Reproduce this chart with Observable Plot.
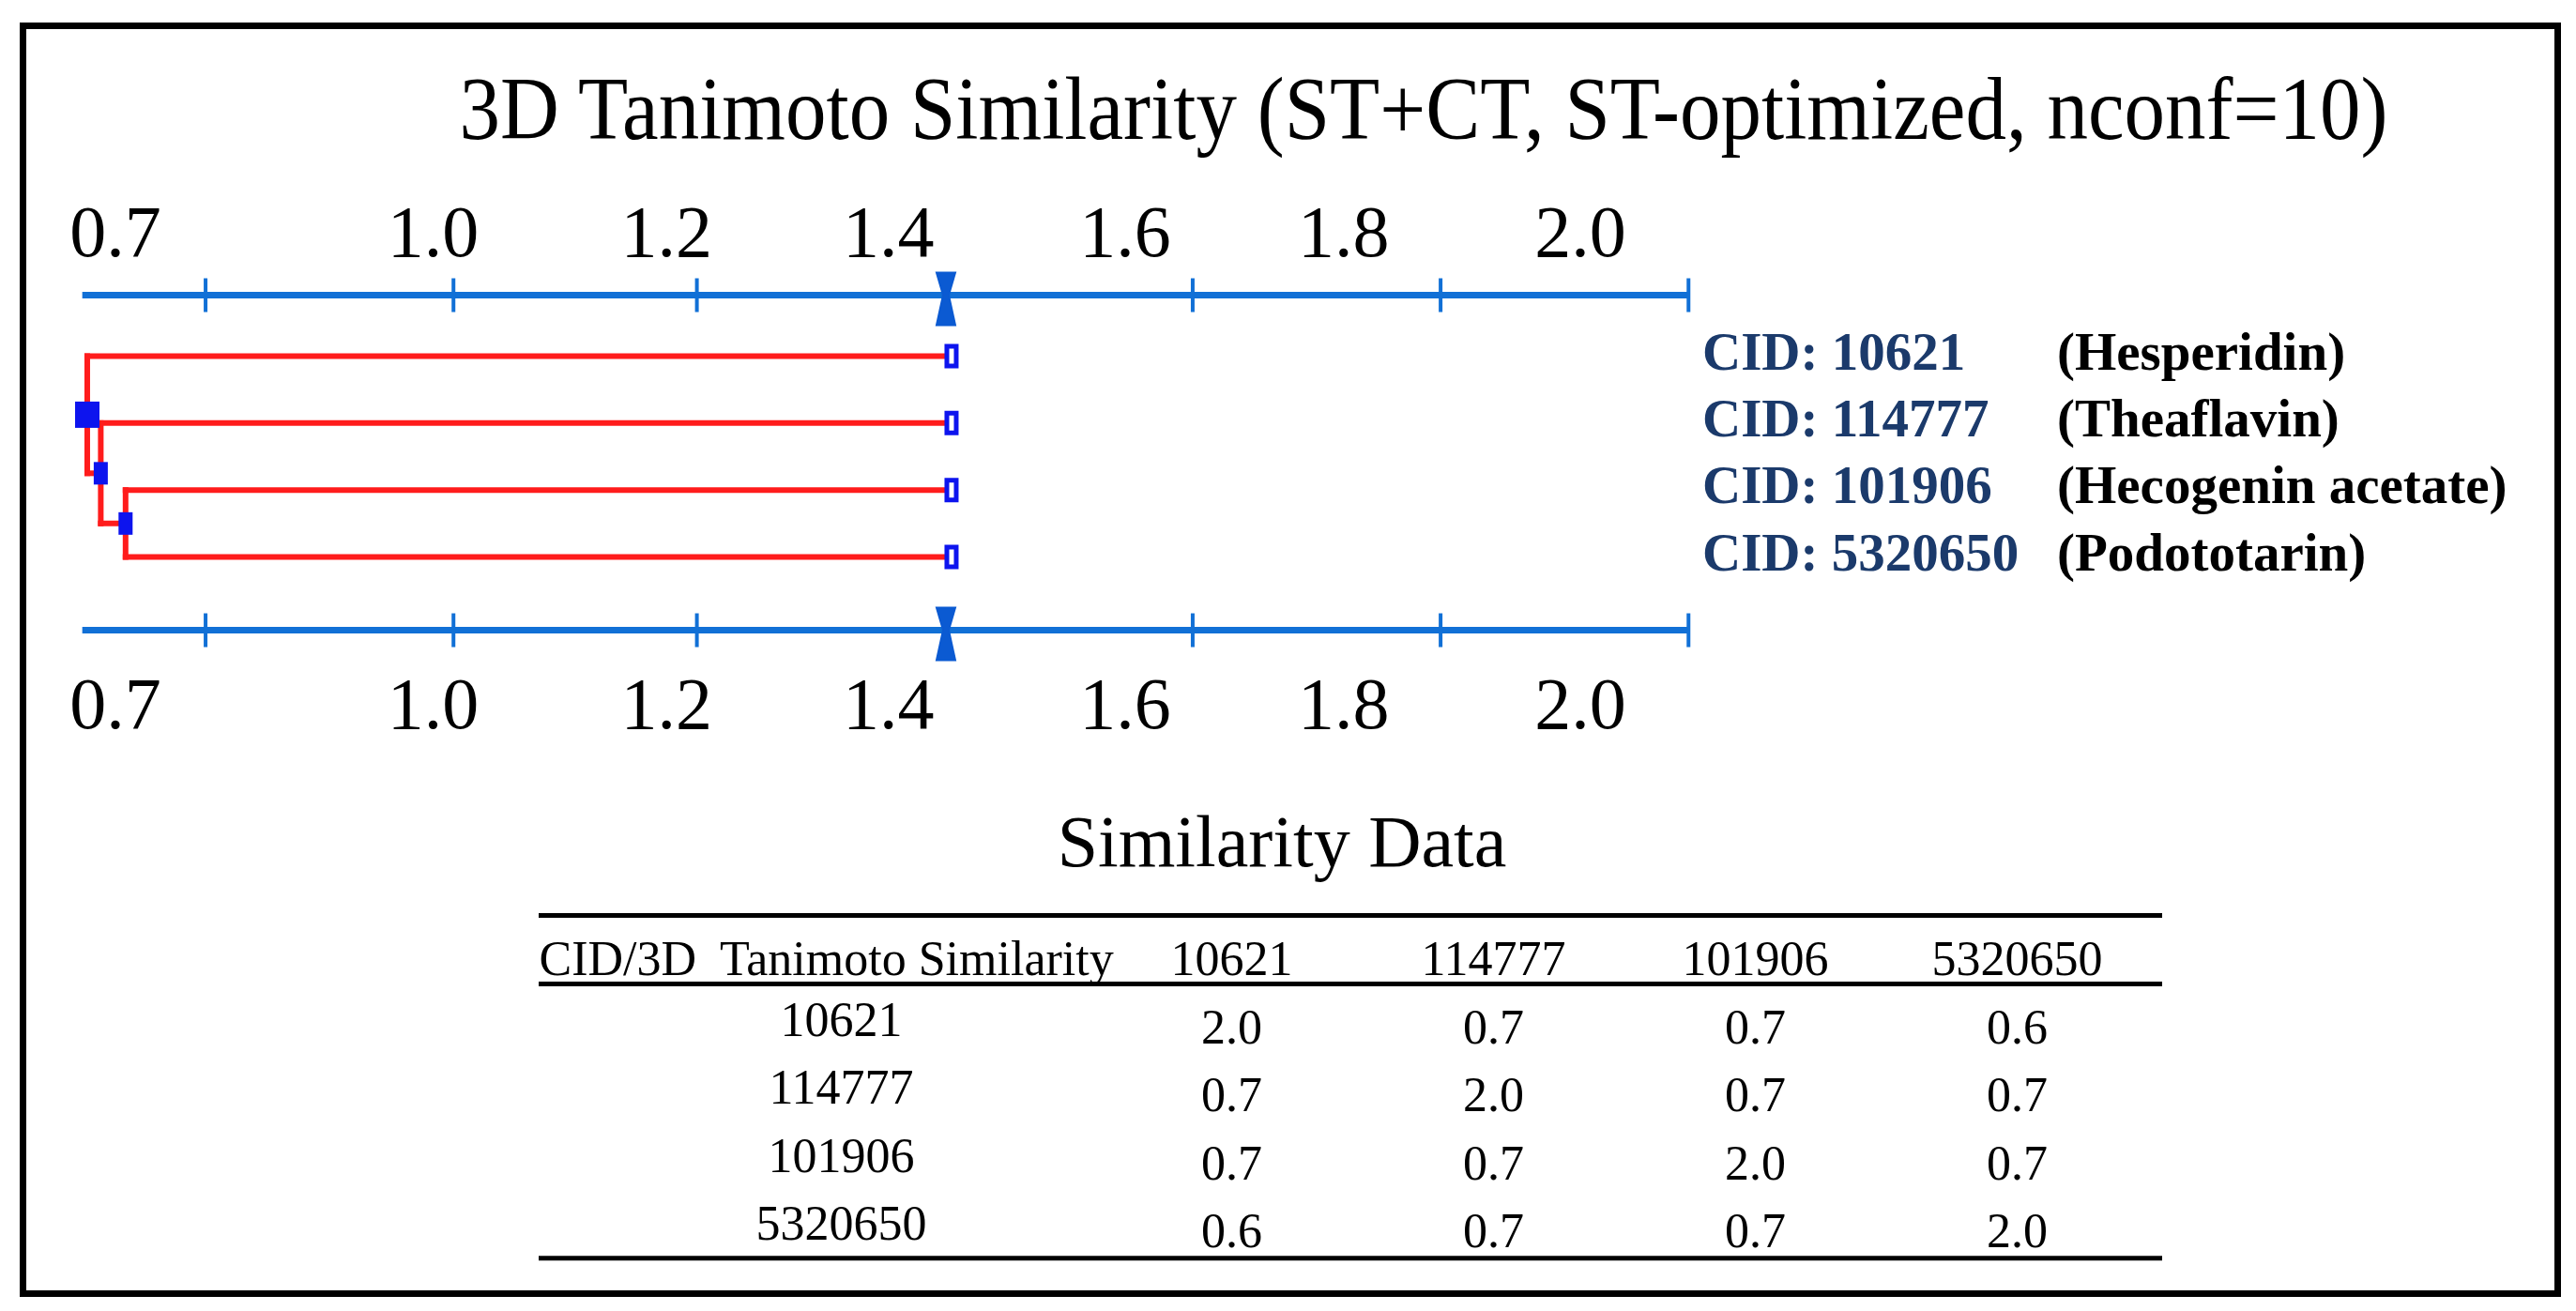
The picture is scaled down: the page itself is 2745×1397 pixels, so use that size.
<!DOCTYPE html>
<html>
<head>
<meta charset="utf-8">
<script src="https://cdn.jsdelivr.net/npm/d3@7"></script>
<script src="https://cdn.jsdelivr.net/npm/@observablehq/plot@0.6"></script>
<style>
  html, body { margin: 0; padding: 0; background: #fff; }
  #wrap { position: relative; width: 2745px; height: 1397px; overflow: hidden;
          font-family: "Liberation Serif", "Times New Roman", serif; background: #fff; }
  #border { position: absolute; left: 21px; top: 24px; width: 2708px; height: 1358px;
            border: 7px solid #000; box-sizing: border-box; }
  .ttl { position: absolute; white-space: pre; line-height: 1; color: #000; }
  #dendro { position: absolute; left: 0; top: 150px; }
  #table { position: absolute; left: 0; top: 900px; }
</style>
</head>
<body>
<div id="wrap">
  <div id="border"></div>
  <div class="ttl" id="mainTitle" style="left:1517px; top:72px; font-size:87px; transform: translateX(-50%) scaleY(1.1);"></div>
  <div class="ttl" id="tableTitle" style="left:1366px; top:858px; font-size:78px; transform: translateX(-50%);"></div>
  <div id="dendro"></div>
  <div id="table"></div>
</div>
<script>
// ---------------- data ----------------
const chartTitle = "3D Tanimoto Similarity (ST+CT, ST-optimized, nconf=10)";
const tableTitle = "Similarity Data";

// leaves of the dendrogram (top to bottom)
const leafIds = ["10621", "114777", "101906", "5320650"];
const leafNames = ["(Hesperidin)", "(Theaflavin)", "(Hecogenin acetate)", "(Podototarin)"];
const leafSimilarity = 1.442;

// merges (in order of joining)
const mergeIds = ["A", "B", "C"];
const mergeLeft = ["101906", "114777", "10621"];
const mergeRight = ["5320650", "A", "B"];
const mergeHeights = [0.709, 0.687, 0.675];

// axis
const axisStart = 0.671;
const axisEnd = 2.096;
const axisTickValues = [0.78, 1.0, 1.216, 1.437, 1.656, 1.876, 2.096];
const axisTickLabels = ["0.7", "1.0", "1.2", "1.4", "1.6", "1.8", "2.0"];
const axisLabelValues = [0.7, 0.982, 1.189, 1.386, 1.596, 1.79, 2.0];
const cutoffValue = 1.437;

// table
const tableHeader = "CID/3D\u00a0 Tanimoto Similarity";
const tableCids = ["10621", "114777", "101906", "5320650"];
const simRow10621   = [2.0, 0.7, 0.7, 0.6];
const simRow114777  = [0.7, 2.0, 0.7, 0.7];
const simRow101906  = [0.7, 0.7, 2.0, 0.7];
const simRow5320650 = [0.6, 0.7, 0.7, 2.0];

// ---------------- layout / style ----------------
const FONT = "Liberation Serif";
const AXIS_BLUE = "#1170d6";
const MARK_BLUE = "#0b5ad2";
const NODE_BLUE = "#0d14ee";
const RED = "#ff1c1c";
const CID_BLUE = "#1b3a6b";
const AXIS_ROWS = [-0.911, 4.094];      // top and bottom axis, in leaf-row units
const TABLE_RULES = [-0.65, 0.36, 4.39]; // table rules, in table-row units

const rectSym = (w, h) => ({draw(ctx) { ctx.rect(-w / 2, -h / 2, w, h); }});
const vtick = {draw(ctx) { ctx.moveTo(0, -18); ctx.lineTo(0, 18); }};
const hourglass = {draw(ctx) {
  ctx.moveTo(-10, -24); ctx.lineTo(10, -24); ctx.lineTo(3, 0);
  ctx.lineTo(10, 32); ctx.lineTo(-10, 32); ctx.lineTo(-3, 0); ctx.closePath();
}};

document.getElementById("mainTitle").textContent = chartTitle;
document.getElementById("tableTitle").textContent = tableTitle;

// ---------------- dendrogram geometry from the tree ----------------
const pos = new Map();
leafIds.forEach((id, i) => pos.set(id, {x: leafSimilarity, y: i}));
const links = [];
const nodes = [];
mergeIds.forEach((id, k) => {
  const a = pos.get(mergeLeft[k]), b = pos.get(mergeRight[k]);
  const h = mergeHeights[k];
  const node = {id, x: h, y: (a.y + b.y) / 2, root: k === mergeIds.length - 1};
  pos.set(id, node);
  nodes.push(node);
  links.push({x1: h, y1: a.y, x2: h, y2: b.y});
  links.push({x1: h, y1: a.y, x2: a.x, y2: a.y});
  links.push({x1: h, y1: b.y, x2: b.x, y2: b.y});
});
const leaves = leafIds.map((id, i) => ({id, name: leafNames[i], x: leafSimilarity, y: i}));
const ticks = AXIS_ROWS.flatMap(r => axisTickValues.map(v => ({x: v, y: r})));
const tickLabels = axisTickLabels.map((t, i) => ({t, x: axisLabelValues[i]}));
const cutoffs = AXIS_ROWS.map(r => ({x: cutoffValue, y: r}));

const dendro = Plot.plot({
  width: 2745, height: 700,
  marginTop: 0, marginRight: 0, marginBottom: 0, marginLeft: 0,
  style: {background: "transparent", fontFamily: FONT},
  x: {type: "linear", domain: [0.7, 2.0], range: [122.5, 1683.5], axis: null},
  y: {type: "linear", domain: [0, 3], range: [229, 443], axis: null},
  marks: [
    Plot.ruleY(AXIS_ROWS, {x1: axisStart, x2: axisEnd, stroke: AXIS_BLUE, strokeWidth: 7}),
    Plot.dot(ticks, {x: "x", y: "y", symbol: vtick, fill: "none", stroke: AXIS_BLUE, strokeWidth: 4}),
    Plot.dot(cutoffs, {x: "x", y: "y", symbol: hourglass, fill: MARK_BLUE, stroke: MARK_BLUE, strokeWidth: 2}),
    Plot.text(tickLabels, {x: "x", y: () => AXIS_ROWS[0], text: "t", dy: -42, lineAnchor: "bottom",
      fontSize: 78, fontFamily: FONT, fill: "#000"}),
    Plot.text(tickLabels, {x: "x", y: () => AXIS_ROWS[1], text: "t", dy: 104, lineAnchor: "bottom",
      fontSize: 78, fontFamily: FONT, fill: "#000"}),
    Plot.link(links, {x1: "x1", y1: "y1", x2: "x2", y2: "y2", stroke: RED, strokeWidth: 6,
      strokeLinecap: "square"}),
    Plot.dot(leaves, {x: "x", y: "y", symbol: rectSym(10, 21), fill: "#fff", stroke: NODE_BLUE, strokeWidth: 5}),
    Plot.dot(nodes.filter(d => !d.root), {x: "x", y: "y", symbol: rectSym(15, 24), fill: NODE_BLUE, stroke: "none"}),
    Plot.dot(nodes.filter(d => d.root), {x: "x", y: "y", symbol: rectSym(26, 28), fill: NODE_BLUE, stroke: "none"}),
    Plot.text(leaves, {x: "x", y: "y", text: d => "CID: " + d.id, dx: 800, dy: -4, textAnchor: "start",
      lineAnchor: "middle", fontSize: 57, fontWeight: "bold", fontFamily: FONT, fill: CID_BLUE}),
    Plot.text(leaves, {x: "x", y: "y", text: "name", dx: 1178, dy: -4, textAnchor: "start",
      lineAnchor: "middle", fontSize: 57, fontWeight: "bold", fontFamily: FONT, fill: "#000"})
  ]
});
document.getElementById("dendro").appendChild(dendro);

// ---------------- table ----------------
const simRows = [simRow10621, simRow114777, simRow101906, simRow5320650];
const cells = simRows.flatMap((row, r) => row.map((v, c) => ({row: r + 1, col: tableCids[c], v})));
const fmt = d3.format(".1f");

const table = Plot.plot({
  width: 2745, height: 480,
  marginTop: 0, marginRight: 441, marginBottom: 0, marginLeft: 574,
  style: {background: "transparent", fontFamily: FONT},
  x: {type: "point", domain: tableCids, range: [1311, 2149], padding: 0, axis: null},
  y: {type: "linear", domain: [0, 4], range: [122, 412], axis: null},
  marks: [
    Plot.ruleY(TABLE_RULES, {stroke: "#000", strokeWidth: 5}),
    Plot.text([tableHeader], {frameAnchor: "left", y: () => 0, text: d => d, textAnchor: "start",
      lineAnchor: "middle", fontSize: 52, fontFamily: FONT, fill: "#000"}),
    Plot.text(tableCids, {x: d => d, y: () => 0, text: d => d, lineAnchor: "middle",
      fontSize: 52, fontFamily: FONT, fill: "#000"}),
    Plot.text(tableCids, {frameAnchor: "left", y: (d, i) => i + 1, text: d => d, dx: 322, dy: -8,
      textAnchor: "middle", lineAnchor: "middle", fontSize: 52, fontFamily: FONT, fill: "#000"}),
    Plot.text(cells, {x: "col", y: "row", text: d => fmt(d.v), lineAnchor: "middle",
      fontSize: 52, fontFamily: FONT, fill: "#000"})
  ]
});
document.getElementById("table").appendChild(table);
</script>
</body>
</html>
